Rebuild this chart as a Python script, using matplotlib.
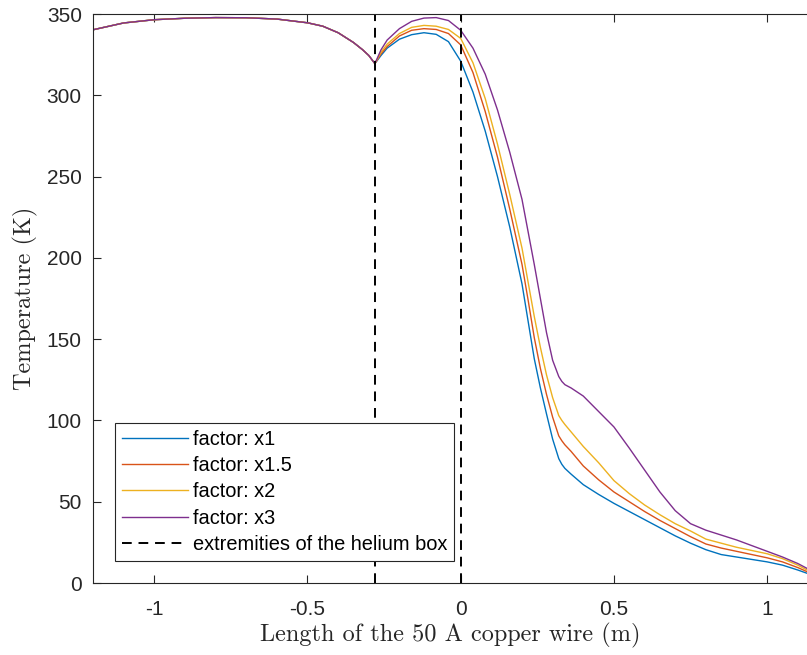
import numpy as np
import matplotlib.pyplot as plt

# ── Data ──────────────────────────────────────────────────────────────────────
x_pos = [-1.2, -1.1, -1.0, -0.9, -0.8, -0.7, -0.6, -0.5, -0.45, -0.4, -0.35,
         -0.32, -0.3, -0.28, -0.26, -0.24, -0.2, -0.16, -0.12, -0.08, -0.04,
         0.0, 0.04, 0.08, 0.12, 0.16, 0.2, 0.22, 0.24, 0.26, 0.28, 0.3, 0.32,
         0.33, 0.34, 0.36, 0.4, 0.45, 0.5, 0.55, 0.6, 0.65, 0.7, 0.75, 0.8,
         0.85, 0.9, 0.95, 1.0, 1.05, 1.1, 1.13]

# common part up to the first helium box extremity
t_left = [340.3, 344.5, 346.5, 347.4, 347.8, 347.7, 346.9, 344.6, 342.5,
          338.5, 332.5, 328.0, 324.5, 319.5]

t_x1 = t_left + [324.5, 329.0, 334.5, 337.3, 338.5, 337.5, 333.0, 321.0, 302.0,
                 278.0, 250.0, 219.0, 184.0, 161.0, 138.0, 120.0, 104.0, 88.5,
                 76.5, 73.0, 70.5, 67.0, 60.5, 54.5, 49.0, 44.0, 39.0, 34.0,
                 29.0, 24.5, 20.5, 17.5, 16.0, 14.5, 13.0, 11.0, 8.0, 6.0]
t_x15 = t_left + [325.5, 330.0, 336.5, 340.0, 341.0, 340.5, 338.0, 331.0, 314.0,
                  290.0, 262.0, 230.0, 196.0, 174.0, 151.0, 132.0, 116.0, 102.0,
                  90.5, 87.5, 85.0, 81.0, 72.0, 63.5, 56.0, 50.0, 44.0, 38.5,
                  33.5, 28.5, 24.0, 21.5, 19.5, 17.5, 15.5, 13.0, 9.5, 7.0]
t_x2 = t_left + [326.5, 331.5, 338.0, 341.8, 343.0, 342.5, 340.5, 335.0, 320.0,
                 298.0, 270.0, 239.0, 206.0, 185.0, 164.0, 145.0, 128.0, 114.0,
                 103.0, 100.0, 97.5, 93.0, 84.0, 74.0, 63.0, 55.0, 48.0, 42.0,
                 36.5, 32.0, 27.0, 24.5, 22.0, 20.0, 18.0, 15.0, 11.0, 8.0]
t_x3 = t_left + [328.0, 334.0, 341.0, 345.5, 347.5, 347.8, 346.0, 340.0, 329.0,
                 313.0, 291.0, 265.0, 236.0, 216.0, 196.0, 175.0, 154.0, 137.0,
                 127.0, 124.0, 122.0, 120.0, 115.0, 105.5, 96.0, 83.0, 69.5,
                 56.0, 44.5, 36.5, 32.5, 29.5, 26.5, 23.0, 19.5, 16.0, 12.0, 9.0]

series = [t_x1, t_x15, t_x2, t_x3]
labels = ["factor: x1", "factor: x1.5", "factor: x2", "factor: x3"]
colors = ["#0072BD", "#D95319", "#EDB120", "#7E2F8E"]

box_edges = [-0.28, 0.0]

# ── Plot ──────────────────────────────────────────────────────────────────────
plt.rcParams["font.family"] = ["Liberation Sans", "DejaVu Sans"]
axis_grey = "#262626"

fig = plt.figure(figsize=(8.07, 6.55), dpi=100)
ax = fig.add_axes([0.1152, 0.1099, 0.8848, 0.8687])

for t, lab, c in zip(series, labels, colors):
    ax.plot(x_pos, t, color=c, linewidth=1.0, label=lab)

for i, xb in enumerate(box_edges):
    ax.axvline(xb, color="black", linestyle=(0, (5, 3.5)), linewidth=1.4,
               label="extremities of the helium box" if i == 0 else None)

ax.set_xlim(-1.2, 1.13)
ax.set_ylim(0, 350)
ax.set_xticks([-1, -0.5, 0, 0.5, 1])
ax.set_xticklabels(["-1", "-0.5", "0", "0.5", "1"])
ax.set_yticks(np.arange(0, 351, 50))

ax.tick_params(direction="in", length=6, width=0.8, top=True, right=False,
               labelsize=15, colors=axis_grey)
ax.tick_params(axis="x", pad=12)
ax.tick_params(axis="y", pad=8)
for side in ["left", "top", "bottom"]:
    ax.spines[side].set_color(axis_grey)
    ax.spines[side].set_linewidth(0.8)
ax.spines["right"].set_visible(False)

ax.set_xlabel("Length of the 50 A copper wire (m)", fontfamily="cmr10",
              fontsize=17.5, color=axis_grey, labelpad=3)
ax.set_ylabel("Temperature (K)", fontfamily="cmr10", fontsize=17.5,
              color=axis_grey, labelpad=6)

leg = ax.legend(loc="lower left", bbox_to_anchor=(0.031, 0.039), fontsize=14.4,
                handlelength=3.3, handletextpad=0.25, labelspacing=0.36,
                borderpad=0.35, borderaxespad=0, fancybox=False, framealpha=1,
                edgecolor=axis_grey)
leg.get_frame().set_linewidth(0.8)

fig.savefig("out.png", dpi=100)
